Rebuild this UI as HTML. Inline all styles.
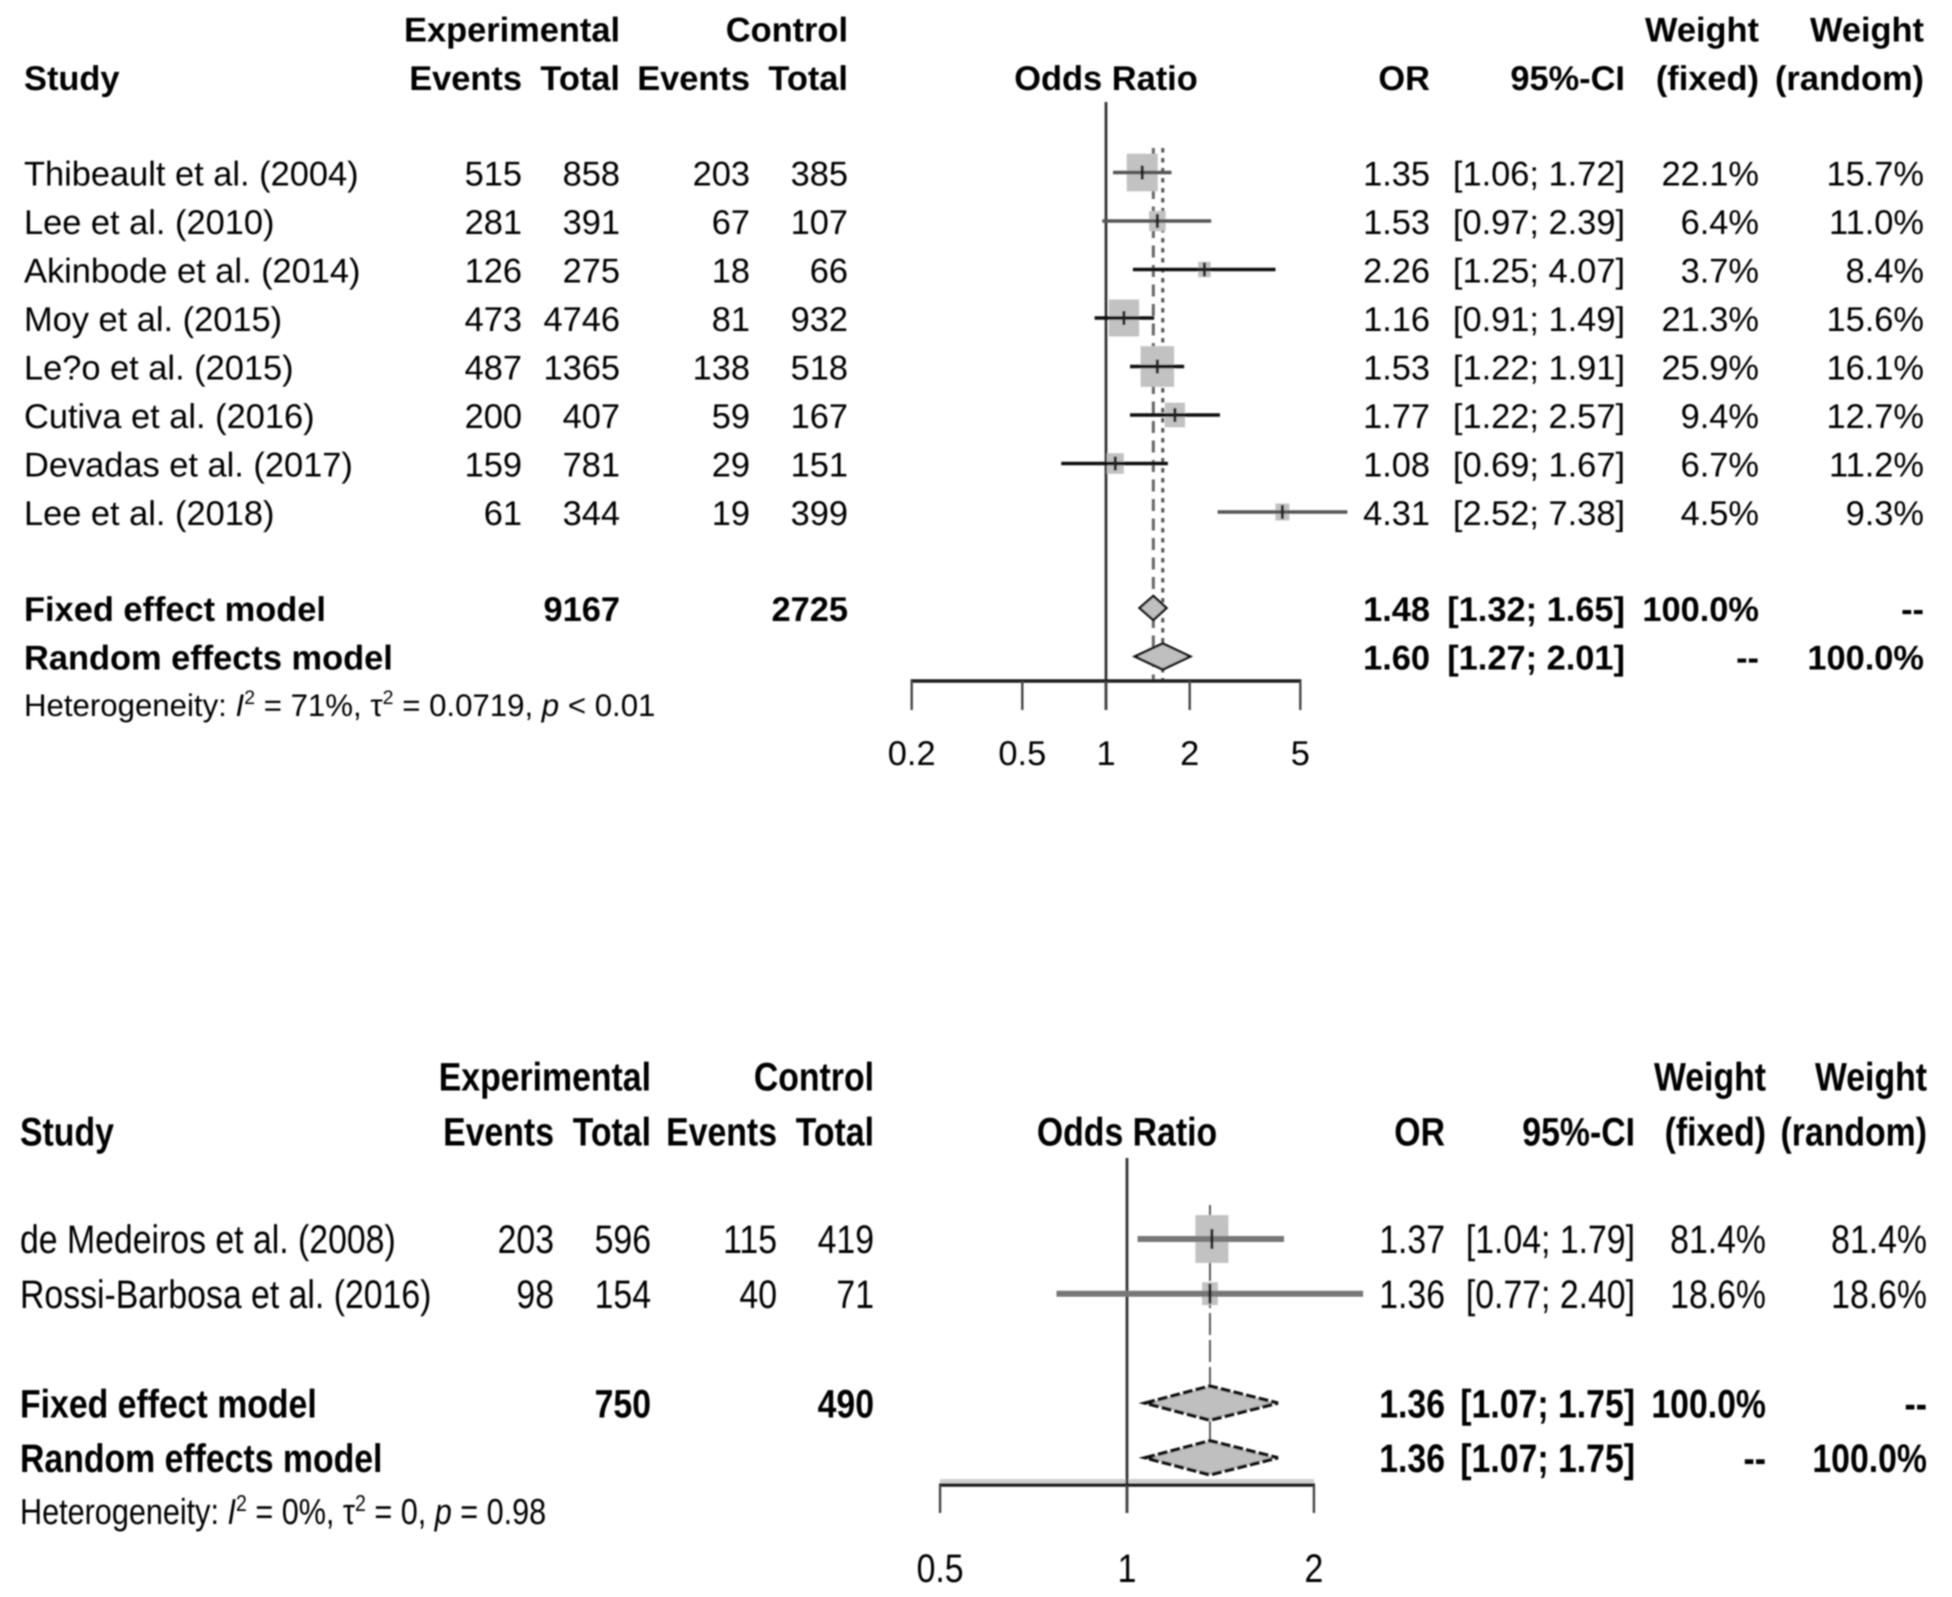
<!DOCTYPE html>
<html lang="en">
<head>
<meta charset="utf-8">
<title>Forest plots</title>
<style>
html,body{margin:0;padding:0;background:#fff;width:1952px;height:1597px;overflow:hidden}
svg{display:block}
text{font-family:"Liberation Sans",Arial,sans-serif;fill:#000;text-rendering:geometricPrecision}
.b{font-weight:700}
</style>
</head>
<body>
<svg id="figure" xmlns="http://www.w3.org/2000/svg" width="1952" height="1597" viewBox="0 0 1952 1597">
<defs><filter id="soft" filterUnits="userSpaceOnUse" x="0" y="0" width="1952" height="1597"><feGaussianBlur stdDeviation="0.9"/></filter></defs>
<rect width="1952" height="1597" fill="#fff"/>
<g id="root" filter="url(#soft)">
  <g id="top">
    <text x="24" y="716" font-size="31.2">Heterogeneity: <tspan font-style="italic">I</tspan><tspan font-size="19.5" dy="-12">2</tspan><tspan dy="12"> = 71%, τ</tspan><tspan font-size="19.5" dy="-12">2</tspan><tspan dy="12"> = 0.0719, </tspan><tspan font-style="italic">p</tspan> &lt; 0.01</text>
  </g>
  <g id="bottom">
    <line x1="940" x2="1314" y1="1481" y2="1481" stroke="#cfcfcf" stroke-width="4"/>
    <text transform="translate(20,1524) scale(1,1.18)" font-size="30.6">Heterogeneity: <tspan font-style="italic">I</tspan><tspan font-size="19.5" dy="-11">2</tspan><tspan dy="11"> = 0%, τ</tspan><tspan font-size="19.5" dy="-11">2</tspan><tspan dy="11"> = 0, </tspan><tspan font-style="italic">p</tspan> = 0.98</text>
  </g>
</g>
</svg>
<script>
// ---- top forest plot data ----
const topStudies = ["Thibeault et al. (2004)","Lee et al. (2010)","Akinbode et al. (2014)","Moy et al. (2015)","Le?o et al. (2015)","Cutiva et al. (2016)","Devadas et al. (2017)","Lee et al. (2018)"];
const topExpEvents = [515,281,126,473,487,200,159,61];
const topExpTotals = [858,391,275,4746,1365,407,781,344];
const topCtrlEvents = [203,67,18,81,138,59,29,19];
const topCtrlTotals = [385,107,66,932,518,167,151,399];
const topOR = [1.35,1.53,2.26,1.16,1.53,1.77,1.08,4.31];
const topLower = [1.06,0.97,1.25,0.91,1.22,1.22,0.69,2.52];
const topUpper = [1.72,2.39,4.07,1.49,1.91,2.57,1.67,7.38];
const topWeightFixed = [22.1,6.4,3.7,21.3,25.9,9.4,6.7,4.5];
const topWeightRandom = [15.7,11.0,8.4,15.6,16.1,12.7,11.2,9.3];
const topFixedPooled = [1.48,1.32,1.65];
const topRandomPooled = [1.60,1.27,2.01];
const topTotals = [9167,2725];
const topTicks = [0.2,0.5,1,2,5];

// ---- bottom forest plot data ----
const bottomStudies = ["de Medeiros et al. (2008)","Rossi-Barbosa et al. (2016)"];
const bottomExpEvents = [203,98];
const bottomExpTotals = [596,154];
const bottomCtrlEvents = [115,40];
const bottomCtrlTotals = [419,71];
const bottomOR = [1.37,1.36];
const bottomLower = [1.04,0.77];
const bottomUpper = [1.79,2.40];
const bottomWeightFixed = [81.4,18.6];
const bottomWeightRandom = [81.4,18.6];
const bottomFixedPooled = [1.36,1.07,1.75];
const bottomRandomPooled = [1.36,1.07,1.75];
const bottomTotals = [750,490];
const bottomTicks = [0.5,1,2];

const NS = 'http://www.w3.org/2000/svg';
function add(parent, tag, name, attrs) {
  const el = document.createElementNS(NS, tag);
  
  
  for (const k in attrs) el.setAttribute(k, attrs[k]);
  parent.appendChild(el);
  return el;
}

function drawForest(cfg) {
  const g = cfg.group;
  const p = cfg.prefix;
  const x = v => cfg.x1 + cfg.pxPerLog * Math.log10(v);
  const rowC = i => cfg.row0 + cfg.rowStep * i;
  const n = cfg.studies.length;

  function text(name, str, tx, i, anchor, bold, size) {
    const fs = size || cfg.font;
    const extra = i < 0 ? cfg.headShift : (i > n ? cfg.pooledShift : 0);
    const t = add(g, 'text', p + '-' + name, {
      transform: 'translate(' + tx + ',' + (rowC(i) + cfg.baseShift + extra) + ') scale(1,' + cfg.sy + ')',
      'font-size': fs,
      'text-anchor': anchor
    });
    if (bold) t.setAttribute('class', 'b');
    t.textContent = str;
    return t;
  }
  const c = cfg.cols;

  // header
  text('header-experimental', 'Experimental', c.total, -3, 'end', true);
  text('header-control', 'Control', c.cTotal, -3, 'end', true);
  text('header-weight-fixed', 'Weight', c.wf, -3, 'end', true);
  text('header-weight-random', 'Weight', c.wr, -3, 'end', true);
  text('header-study', 'Study', c.study, -2, 'start', true);
  text('header-exp-events', 'Events', c.events, -2, 'end', true);
  text('header-exp-total', 'Total', c.total, -2, 'end', true);
  text('header-ctrl-events', 'Events', c.cEvents, -2, 'end', true);
  text('header-ctrl-total', 'Total', c.cTotal, -2, 'end', true);
  text('header-odds-ratio', 'Odds Ratio', cfg.x1, -2, 'middle', true);
  text('header-or', 'OR', c.or, -2, 'end', true);
  text('header-ci', '95%-CI', c.ci, -2, 'end', true);
  text('header-fixed', '(fixed)', c.wf, -2, 'end', true);
  text('header-random', '(random)', c.wr, -2, 'end', true);

  const fixRow = n + 1, ranRow = n + 2;
  const axisEnd = cfg.axisY + cfg.tickLen;

  // reference lines
  add(g, 'line', p + '-null-effect-line', {x1:x(1), x2:x(1), y1:cfg.refTop, y2:axisEnd, stroke:'#333', 'stroke-width':2.8});
  add(g, 'line', p + '-fixed-effect-line', {x1:x(cfg.fixed[0]), x2:x(cfg.fixed[0]), y1:cfg.pooledTop, y2:cfg.fixedEnd, stroke:'#666', 'stroke-width':cfg.refW, 'stroke-dasharray':cfg.dashFixed});
  add(g, 'line', p + '-random-effect-line', {x1:x(cfg.random[0]), x2:x(cfg.random[0]), y1:cfg.pooledTop, y2:cfg.randomEnd, stroke:'#555', 'stroke-width':cfg.refW, 'stroke-dasharray':cfg.dashRandom});

  // study rows
  for (let i = 0; i < n; i++) {
    const cy = rowC(i), cx = x(cfg.or[i]);
    const root = Math.sqrt(cfg.wf[i]);
    const w = cfg.sqW * root, h = cfg.sqH * root;
    add(g, 'rect', p + '-study-square-' + i, {x:cx - w / 2, y:cy - h / 2, width:w, height:h, fill:'#c2c2c2'});
    add(g, 'line', p + '-study-ci-' + i, {x1:x(cfg.lo[i]), x2:x(cfg.hi[i]), y1:cy, y2:cy, stroke:cfg.ciColor(i), 'stroke-width':cfg.ciW});
    add(g, 'line', p + '-study-point-' + i, {x1:cx, x2:cx, y1:cy - cfg.markH, y2:cy + cfg.markH, stroke:'#222', 'stroke-width':3});

    text('study-name-' + i, cfg.studies[i], c.study, i, 'start', false);
    text('exp-events-' + i, String(cfg.ee[i]), c.events, i, 'end', false);
    text('exp-total-' + i, String(cfg.et[i]), c.total, i, 'end', false);
    text('ctrl-events-' + i, String(cfg.ce[i]), c.cEvents, i, 'end', false);
    text('ctrl-total-' + i, String(cfg.ct[i]), c.cTotal, i, 'end', false);
    text('or-value-' + i, cfg.or[i].toFixed(2), c.or, i, 'end', false);
    text('ci-value-' + i, '[' + cfg.lo[i].toFixed(2) + '; ' + cfg.hi[i].toFixed(2) + ']', c.ci, i, 'end', false);
    text('weight-fixed-' + i, cfg.wf[i].toFixed(1) + '%', c.wf, i, 'end', false);
    text('weight-random-' + i, cfg.wr[i].toFixed(1) + '%', c.wr, i, 'end', false);
  }

  // pooled rows
  function diamond(name, pooled, row, halfH) {
    const cy = rowC(row) + cfg.diamondShift;
    const pts = [[x(pooled[1]), cy], [x(pooled[0]), cy - halfH], [x(pooled[2]), cy], [x(pooled[0]), cy + halfH]];
    add(g, 'polygon', p + '-' + name, {points:pts.map(q => q.join(',')).join(' '), fill:'#bfbfbf', stroke:'#111', 'stroke-width':cfg.diamondW, 'stroke-dasharray':cfg.diamondDash});
  }
  diamond('fixed-diamond', cfg.fixed, fixRow, cfg.fixH);
  diamond('random-diamond', cfg.random, ranRow, cfg.ranH);

  text('fixed-label', 'Fixed effect model', c.study, fixRow, 'start', true);
  text('fixed-exp-total', String(cfg.totals[0]), c.total, fixRow, 'end', true);
  text('fixed-ctrl-total', String(cfg.totals[1]), c.cTotal, fixRow, 'end', true);
  text('fixed-or', cfg.fixed[0].toFixed(2), c.or, fixRow, 'end', true);
  text('fixed-ci', '[' + cfg.fixed[1].toFixed(2) + '; ' + cfg.fixed[2].toFixed(2) + ']', c.ci, fixRow, 'end', true);
  text('fixed-weight-fixed', '100.0%', c.wf, fixRow, 'end', true);
  text('fixed-weight-random', '--', c.wr, fixRow, 'end', true);

  text('random-label', 'Random effects model', c.study, ranRow, 'start', true);
  text('random-or', cfg.random[0].toFixed(2), c.or, ranRow, 'end', true);
  text('random-ci', '[' + cfg.random[1].toFixed(2) + '; ' + cfg.random[2].toFixed(2) + ']', c.ci, ranRow, 'end', true);
  text('random-weight-fixed', '--', c.wf, ranRow, 'end', true);
  text('random-weight-random', '100.0%', c.wr, ranRow, 'end', true);

  // axis
  const t0 = cfg.ticks[0], t1 = cfg.ticks[cfg.ticks.length - 1];
  add(g, 'line', p + '-x-axis', {x1:x(t0) - 1, x2:x(t1) + 1, y1:cfg.axisY, y2:cfg.axisY, stroke:'#1c1c1c', 'stroke-width':3.6});
  cfg.ticks.forEach((v, i) => {
    add(g, 'line', p + '-x-tick-' + i, {x1:x(v), x2:x(v), y1:cfg.axisY, y2:axisEnd, stroke:'#444', 'stroke-width':2.4});
    const t = add(g, 'text', p + '-x-tick-label-' + i, {
      transform: 'translate(' + x(v) + ',' + cfg.tickLabelY + ') scale(1,' + cfg.sy + ')',
      'font-size': cfg.font,
      'text-anchor': 'middle'
    });
    t.textContent = String(v);
  });
}

drawForest({
  group: document.getElementById('top'), prefix: 'top',
  x1: 1106, pxPerLog: 278, row0: 172.5, rowStep: 48.5, baseShift: 13, headShift: 1.5, pooledShift: -1, font: 34.4, sy: 1,
  studies: topStudies, ee: topExpEvents, et: topExpTotals, ce: topCtrlEvents, ct: topCtrlTotals,
  or: topOR, lo: topLower, hi: topUpper, wf: topWeightFixed, wr: topWeightRandom,
  fixed: topFixedPooled, random: topRandomPooled, totals: topTotals, ticks: topTicks,
  cols: {study:24, events:522, total:620, cEvents:750, cTotal:848, or:1430, ci:1625, wf:1759, wr:1924},
  refTop: 102, pooledTop: 148, fixedEnd: 681, randomEnd: 681, refW: 3,
  dashFixed: '12 7.5', dashRandom: '4.5 5.5',
  sqW: 6.6, sqH: 8, markH: 7, ciW: 3.5,
  ciColor: i => (i < 2 || i === 7) ? '#555' : '#111',
  diamondShift: -1, diamondW: 2.4, diamondDash: 'none', fixH: 12, ranH: 13,
  axisY: 681, tickLen: 29, tickLabelY: 765
});

drawForest({
  group: document.getElementById('bottom'), prefix: 'bottom',
  x1: 1127, pxPerLog: 621, row0: 1239, rowStep: 54.7, baseShift: 14.2, headShift: 1.5, pooledShift: 0, font: 33.8, sy: 1.18,
  studies: bottomStudies, ee: bottomExpEvents, et: bottomExpTotals, ce: bottomCtrlEvents, ct: bottomCtrlTotals,
  or: bottomOR, lo: bottomLower, hi: bottomUpper, wf: bottomWeightFixed, wr: bottomWeightRandom,
  fixed: bottomFixedPooled, random: bottomRandomPooled, totals: bottomTotals, ticks: bottomTicks,
  cols: {study:20, events:554, total:651, cEvents:777, cTotal:874, or:1445, ci:1635, wf:1766, wr:1927},
  refTop: 1158, pooledTop: 1205, fixedEnd: 1458, randomEnd: 1458, refW: 1.8,
  dashFixed: '22 5', dashRandom: '22 5',
  sqW: 3.66, sqH: 5.3, markH: 10, ciW: 6,
  ciColor: i => '#777',
  diamondShift: 0, diamondW: 3.4, diamondDash: '10 3', fixH: 17, ranH: 17,
  axisY: 1485, tickLen: 28, tickLabelY: 1582
});
</script>
</body>
</html>
